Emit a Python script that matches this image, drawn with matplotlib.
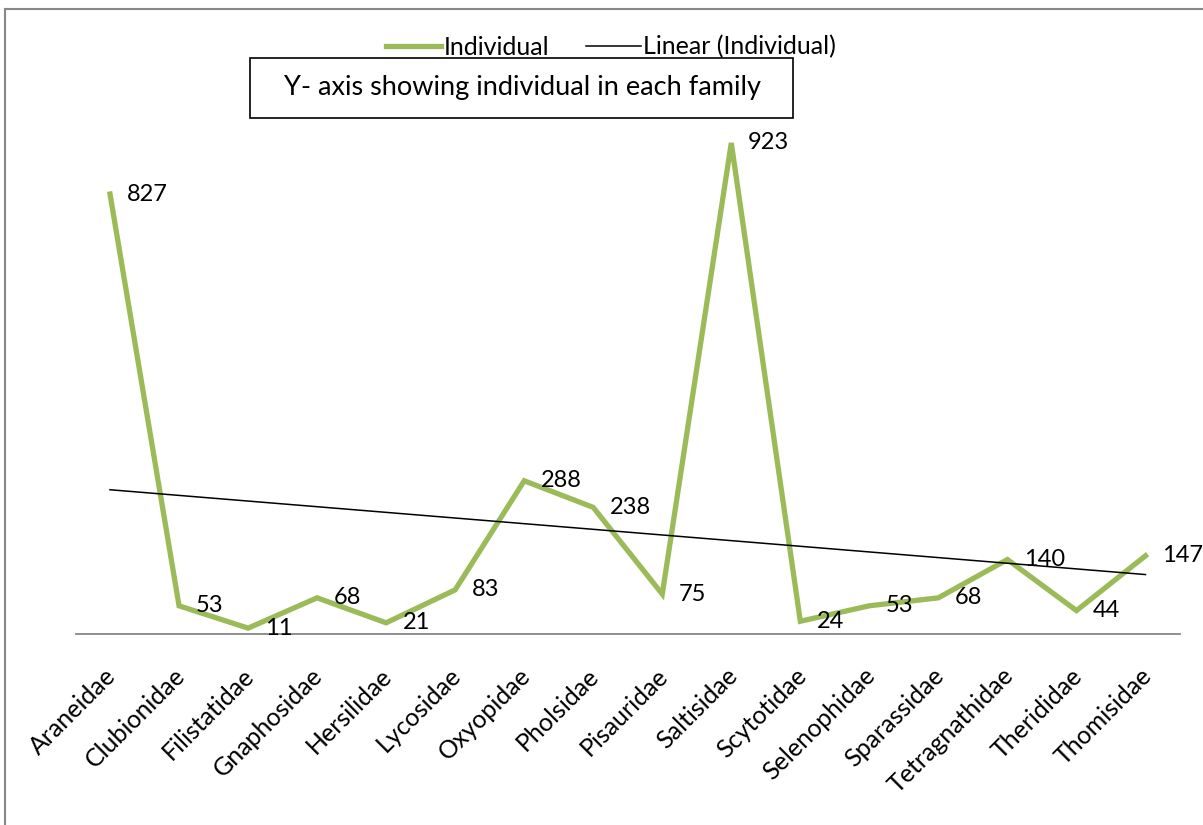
import numpy as np
import matplotlib
matplotlib.use('Agg')
import matplotlib.pyplot as plt
import matplotlib.transforms as mtransforms
from matplotlib.patches import Rectangle

plt.rcParams['font.family'] = ['Lato', 'DejaVu Sans']

families = ['Araneidae', 'Clubionidae', 'Filistatidae', 'Gnaphosidae', 'Hersilidae',
            'Lycosidae', 'Oxyopidae', 'Pholsidae', 'Pisauridae', 'Saltisidae',
            'Scytotidae', 'Selenophidae', 'Sparassidae', 'Tetragnathidae',
            'Therididae', 'Thomisidae']
individuals = [827, 53, 11, 68, 21, 83, 288, 238, 75, 923, 24, 53, 68, 140, 44, 147]

green = '#9BBB59'
x = np.arange(len(families))
y = np.array(individuals)

fig = plt.figure(figsize=(12.03, 8.25), dpi=100)
ax = fig.add_axes([75.5 / 1203, 191 / 825, 1104.5 / 1203, 532 / 825])

ax.plot(x, y, color=green, linewidth=3.8, solid_joinstyle='miter', label='Individual', zorder=3)

# linear trend line, as Excel does it
coef = np.polyfit(x, y, 1)
ax.plot(x, np.polyval(coef, x), color='black', linewidth=1.1, label='Linear (Individual)', zorder=4)

for xi, yi in zip(x, y):
    ax.annotate(str(yi), (xi, yi), xytext=(12, 0), textcoords='offset points',
                ha='left', va='center', fontsize=17, zorder=5)

ax.set_xlim(-0.5, len(families) - 0.5)
ax.set_ylim(0, 1000)
ax.set_xticks(x)
ax.set_xticklabels(families, rotation=45, ha='right', rotation_mode='anchor', fontsize=18)
ax.tick_params(axis='x', length=0, pad=20)
shift = mtransforms.ScaledTranslation(-6 / 100, -2 / 100, fig.dpi_scale_trans)
for lbl in ax.get_xticklabels():
    lbl.set_transform(lbl.get_transform() + shift)
ax.set_yticks([])
for s in ['top', 'right', 'left']:
    ax.spines[s].set_visible(False)
ax.spines['bottom'].set_color('#868686')
ax.spines['bottom'].set_linewidth(1.3)

fig.legend(loc='center', bbox_to_anchor=(611 / 1203, 1 - 47 / 825), ncol=2, frameon=False,
           fontsize=18, handlelength=2.2, handletextpad=0.1, columnspacing=1.45)

# title box
fig.text(522 / 1203, 1 - 88 / 825, 'Y- axis showing individual in each family', ha='center', va='center',
         fontsize=19.5, zorder=10)
fig.patches.append(Rectangle((250 / 1203, 1 - 118 / 825), 543 / 1203, 60 / 825, transform=fig.transFigure,
                             facecolor='white', edgecolor='black', linewidth=1.2, zorder=9))

# outer chart border (left and top visible)
fig.add_artist(plt.Line2D([4.5 / 1203, 4.5 / 1203], [0, 1 - 8.5 / 825], transform=fig.transFigure,
                          color='#888888', linewidth=1.5))
fig.add_artist(plt.Line2D([4.5 / 1203, 1], [1 - 8.5 / 825, 1 - 8.5 / 825], transform=fig.transFigure,
                          color='#888888', linewidth=1.5))

fig.savefig('out.png', dpi=100)
plt.close('all')
